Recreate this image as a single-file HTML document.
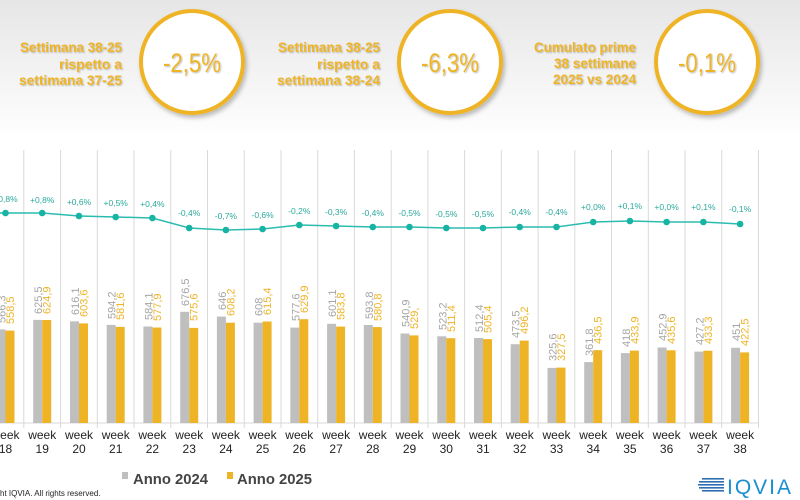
<!DOCTYPE html>
<html><head><meta charset="utf-8"><style>
html,body{margin:0;padding:0;width:800px;height:500px;overflow:hidden;background:#fff;font-family:"Liberation Sans",sans-serif;position:relative}
</style></head><body>
<svg width="800" height="500" viewBox="0 0 800 500" xmlns="http://www.w3.org/2000/svg" font-family="Liberation Sans, sans-serif" style="position:absolute;left:0;top:0">
<defs>
<linearGradient id="bg" x1="0" y1="0" x2="0" y2="1"><stop offset="0" stop-color="#e6e6e6"/><stop offset="1" stop-color="#ffffff"/></linearGradient>
<filter id="sh" x="-20%" y="-20%" width="140%" height="140%"><feDropShadow dx="2" dy="3" stdDeviation="2" flood-color="#000" flood-opacity="0.25"/></filter>
<filter id="ts"><feDropShadow dx="1" dy="1" stdDeviation="0.8" flood-color="#000" flood-opacity="0.25"/></filter>
</defs>
<rect x="0" y="0" width="800" height="140" fill="url(#bg)"/>
<g fill="#efb426" font-weight="bold" font-size="13.5" text-anchor="end" filter="url(#ts)">
<text x="122" y="52" textLength="102" lengthAdjust="spacingAndGlyphs">Settimana 38-25</text>
<text x="122" y="69" textLength="63" lengthAdjust="spacingAndGlyphs">rispetto a</text>
<text x="122" y="85" textLength="103" lengthAdjust="spacingAndGlyphs">settimana 37-25</text>
<text x="380" y="52" textLength="102" lengthAdjust="spacingAndGlyphs">Settimana 38-25</text>
<text x="380" y="69" textLength="63" lengthAdjust="spacingAndGlyphs">rispetto a</text>
<text x="380" y="85" textLength="103" lengthAdjust="spacingAndGlyphs">settimana 38-24</text>
<text x="636" y="52" textLength="102" lengthAdjust="spacingAndGlyphs">Cumulato prime</text>
<text x="636" y="68" textLength="82" lengthAdjust="spacingAndGlyphs">38 settimane</text>
<text x="636" y="84" textLength="83" lengthAdjust="spacingAndGlyphs">2025 vs 2024</text>
</g>
<g filter="url(#sh)">
<circle cx="192" cy="62" r="51" fill="#fff" stroke="#efb426" stroke-width="4"/>
<circle cx="450" cy="62" r="51" fill="#fff" stroke="#efb426" stroke-width="4"/>
<circle cx="707" cy="62" r="51" fill="#fff" stroke="#efb426" stroke-width="4"/>
</g>
<g fill="#efb426" font-size="27" text-anchor="middle" filter="url(#ts)">
<text x="192" y="72" textLength="58" lengthAdjust="spacingAndGlyphs">-2,5%</text><text x="450" y="72" textLength="58" lengthAdjust="spacingAndGlyphs">-6,3%</text><text x="707" y="72" textLength="58" lengthAdjust="spacingAndGlyphs">-0,1%</text>
</g>
<g stroke="#d9d9d9" stroke-width="1">
<line x1="23.8" y1="150" x2="23.8" y2="428"/><line x1="60.6" y1="150" x2="60.6" y2="428"/><line x1="97.3" y1="150" x2="97.3" y2="428"/><line x1="134" y1="150" x2="134" y2="428"/><line x1="170.8" y1="150" x2="170.8" y2="428"/><line x1="207.5" y1="150" x2="207.5" y2="428"/><line x1="244.2" y1="150" x2="244.2" y2="428"/><line x1="281" y1="150" x2="281" y2="428"/><line x1="317.7" y1="150" x2="317.7" y2="428"/><line x1="354.4" y1="150" x2="354.4" y2="428"/><line x1="391.2" y1="150" x2="391.2" y2="428"/><line x1="427.9" y1="150" x2="427.9" y2="428"/><line x1="464.6" y1="150" x2="464.6" y2="428"/><line x1="501.3" y1="150" x2="501.3" y2="428"/><line x1="538.1" y1="150" x2="538.1" y2="428"/><line x1="574.8" y1="150" x2="574.8" y2="428"/><line x1="611.5" y1="150" x2="611.5" y2="428"/><line x1="648.3" y1="150" x2="648.3" y2="428"/><line x1="685" y1="150" x2="685" y2="428"/><line x1="721.7" y1="150" x2="721.7" y2="428"/><line x1="758.5" y1="150" x2="758.5" y2="428"/>
<line x1="0" y1="423" x2="758.5" y2="423"/>
</g>
<g fill="#bfbfbf">
<rect x="-3.5" y="329.4" width="9" height="93.6"/><rect x="33.2" y="319.9" width="9" height="103.1"/><rect x="70" y="321.4" width="9" height="101.6"/><rect x="106.7" y="324.9" width="9" height="98.1"/><rect x="143.4" y="326.5" width="9" height="96.5"/><rect x="180.2" y="311.8" width="9" height="111.2"/><rect x="216.9" y="316.6" width="9" height="106.4"/><rect x="253.6" y="322.7" width="9" height="100.3"/><rect x="290.3" y="327.6" width="9" height="95.4"/><rect x="327.1" y="323.8" width="9" height="99.2"/><rect x="363.8" y="325" width="9" height="98"/><rect x="400.5" y="333.5" width="9" height="89.5"/><rect x="437.3" y="336.3" width="9" height="86.7"/><rect x="474" y="338" width="9" height="85"/><rect x="510.7" y="344.2" width="9" height="78.8"/><rect x="547.5" y="367.9" width="9" height="55.1"/><rect x="584.2" y="362.1" width="9" height="60.9"/><rect x="620.9" y="353.1" width="9" height="69.9"/><rect x="657.6" y="347.5" width="9" height="75.5"/><rect x="694.4" y="351.6" width="9" height="71.4"/><rect x="731.1" y="347.8" width="9" height="75.2"/>
</g>
<g fill="#efb426">
<rect x="5.5" y="330.6" width="9" height="92.4"/><rect x="42.2" y="320" width="9" height="103"/><rect x="79" y="323.4" width="9" height="99.6"/><rect x="115.7" y="326.9" width="9" height="96.1"/><rect x="152.4" y="327.5" width="9" height="95.5"/><rect x="189.2" y="327.9" width="9" height="95.1"/><rect x="225.9" y="322.7" width="9" height="100.3"/><rect x="262.6" y="321.5" width="9" height="101.5"/><rect x="299.3" y="319.2" width="9" height="103.8"/><rect x="336.1" y="326.6" width="9" height="96.4"/><rect x="372.8" y="327.1" width="9" height="95.9"/><rect x="409.5" y="335.4" width="9" height="87.6"/><rect x="446.3" y="338.2" width="9" height="84.8"/><rect x="483" y="339.1" width="9" height="83.9"/><rect x="519.7" y="340.6" width="9" height="82.4"/><rect x="556.5" y="367.6" width="9" height="55.4"/><rect x="593.2" y="350.2" width="9" height="72.8"/><rect x="629.9" y="350.6" width="9" height="72.4"/><rect x="666.6" y="350.3" width="9" height="72.7"/><rect x="703.4" y="350.7" width="9" height="72.3"/><rect x="740.1" y="352.4" width="9" height="70.6"/>
</g>
<g fill="#a6a6a6" font-size="11">
<text transform="translate(5.5,323) rotate(-90)">566,3</text>
<text transform="translate(42.2,314) rotate(-90)">625,5</text>
<text transform="translate(79,315) rotate(-90)">616,1</text>
<text transform="translate(115.7,319) rotate(-90)">594,2</text>
<text transform="translate(152.4,320) rotate(-90)">584,1</text>
<text transform="translate(189.2,306) rotate(-90)">676,5</text>
<text transform="translate(225.9,310) rotate(-90)">646</text>
<text transform="translate(262.6,316) rotate(-90)">608</text>
<text transform="translate(299.3,321) rotate(-90)">577,6</text>
<text transform="translate(336.1,317) rotate(-90)">601,1</text>
<text transform="translate(372.8,319) rotate(-90)">593,8</text>
<text transform="translate(409.5,327) rotate(-90)">540,9</text>
<text transform="translate(446.3,330) rotate(-90)">523,2</text>
<text transform="translate(483,332) rotate(-90)">512,4</text>
<text transform="translate(519.7,338) rotate(-90)">473,5</text>
<text transform="translate(556.5,361) rotate(-90)">325,6</text>
<text transform="translate(593.2,356) rotate(-90)">361,8</text>
<text transform="translate(629.9,347) rotate(-90)">418</text>
<text transform="translate(666.6,341) rotate(-90)">452,9</text>
<text transform="translate(703.4,345) rotate(-90)">427,2</text>
<text transform="translate(740.1,341) rotate(-90)">451</text>
</g>
<g fill="#efb426" font-size="11">
<text transform="translate(14,324) rotate(-90)">558,5</text>
<text transform="translate(50.7,314) rotate(-90)">624,9</text>
<text transform="translate(87.5,317) rotate(-90)">603,6</text>
<text transform="translate(124.2,320) rotate(-90)">581,6</text>
<text transform="translate(160.9,321) rotate(-90)">577,9</text>
<text transform="translate(197.7,321) rotate(-90)">575,6</text>
<text transform="translate(234.4,316) rotate(-90)">608,2</text>
<text transform="translate(271.1,315) rotate(-90)">615,4</text>
<text transform="translate(307.8,313) rotate(-90)">629,9</text>
<text transform="translate(344.6,320) rotate(-90)">583,8</text>
<text transform="translate(381.3,321) rotate(-90)">580,8</text>
<text transform="translate(418,329) rotate(-90)">529,</text>
<text transform="translate(454.8,332) rotate(-90)">511,4</text>
<text transform="translate(491.5,333) rotate(-90)">505,4</text>
<text transform="translate(528.2,334) rotate(-90)">496,2</text>
<text transform="translate(565,361) rotate(-90)">327,5</text>
<text transform="translate(601.7,344) rotate(-90)">436,5</text>
<text transform="translate(638.4,344) rotate(-90)">433,9</text>
<text transform="translate(675.1,344) rotate(-90)">435,6</text>
<text transform="translate(711.9,344) rotate(-90)">433,3</text>
<text transform="translate(748.6,346) rotate(-90)">422,5</text>
</g>
<polyline fill="none" stroke="#2bbcb0" stroke-width="1.5" points="0,213 5.5,213 42.2,213 79,216 115.7,217 152.4,218 189.2,228 225.9,230 262.6,229 299.3,225 336.1,226 372.8,227 409.5,227 446.3,228 483,228 519.7,227 556.5,227 593.2,222 629.9,221 666.6,222 703.4,222 740.1,224"/>
<g fill="#17b3a3">
<circle cx="5.5" cy="213" r="3.3"/><circle cx="42.2" cy="213" r="3.3"/><circle cx="79" cy="216" r="3.3"/><circle cx="115.7" cy="217" r="3.3"/><circle cx="152.4" cy="218" r="3.3"/><circle cx="189.2" cy="228" r="3.3"/><circle cx="225.9" cy="230" r="3.3"/><circle cx="262.6" cy="229" r="3.3"/><circle cx="299.3" cy="225" r="3.3"/><circle cx="336.1" cy="226" r="3.3"/><circle cx="372.8" cy="227" r="3.3"/><circle cx="409.5" cy="227" r="3.3"/><circle cx="446.3" cy="228" r="3.3"/><circle cx="483" cy="228" r="3.3"/><circle cx="519.7" cy="227" r="3.3"/><circle cx="556.5" cy="227" r="3.3"/><circle cx="593.2" cy="222" r="3.3"/><circle cx="629.9" cy="221" r="3.3"/><circle cx="666.6" cy="222" r="3.3"/><circle cx="703.4" cy="222" r="3.3"/><circle cx="740.1" cy="224" r="3.3"/>
</g>
<g fill="#2aa99c" font-size="8.5" text-anchor="middle">
<text x="5.5" y="202">+0,8%</text><text x="42.2" y="203">+0,8%</text><text x="79" y="205">+0,6%</text><text x="115.7" y="206">+0,5%</text><text x="152.4" y="207">+0,4%</text><text x="189.2" y="216">-0,4%</text><text x="225.9" y="219">-0,7%</text><text x="262.6" y="218">-0,6%</text><text x="299.3" y="214">-0,2%</text><text x="336.1" y="215">-0,3%</text><text x="372.8" y="216">-0,4%</text><text x="409.5" y="216">-0,5%</text><text x="446.3" y="217">-0,5%</text><text x="483" y="217">-0,5%</text><text x="519.7" y="215">-0,4%</text><text x="556.5" y="215">-0,4%</text><text x="593.2" y="210">+0,0%</text><text x="629.9" y="209">+0,1%</text><text x="666.6" y="210">+0,0%</text><text x="703.4" y="210">+0,1%</text><text x="740.1" y="212">-0,1%</text>
</g>
<g fill="#222" font-size="12" text-anchor="middle">
<text x="5.5" y="439">week</text><text x="42.2" y="439">week</text><text x="79" y="439">week</text><text x="115.7" y="439">week</text><text x="152.4" y="439">week</text><text x="189.2" y="439">week</text><text x="225.9" y="439">week</text><text x="262.6" y="439">week</text><text x="299.3" y="439">week</text><text x="336.1" y="439">week</text><text x="372.8" y="439">week</text><text x="409.5" y="439">week</text><text x="446.3" y="439">week</text><text x="483" y="439">week</text><text x="519.7" y="439">week</text><text x="556.5" y="439">week</text><text x="593.2" y="439">week</text><text x="629.9" y="439">week</text><text x="666.6" y="439">week</text><text x="703.4" y="439">week</text><text x="740.1" y="439">week</text>
<text x="5.5" y="453">18</text><text x="42.2" y="453">19</text><text x="79" y="453">20</text><text x="115.7" y="453">21</text><text x="152.4" y="453">22</text><text x="189.2" y="453">23</text><text x="225.9" y="453">24</text><text x="262.6" y="453">25</text><text x="299.3" y="453">26</text><text x="336.1" y="453">27</text><text x="372.8" y="453">28</text><text x="409.5" y="453">29</text><text x="446.3" y="453">30</text><text x="483" y="453">31</text><text x="519.7" y="453">32</text><text x="556.5" y="453">33</text><text x="593.2" y="453">34</text><text x="629.9" y="453">35</text><text x="666.6" y="453">36</text><text x="703.4" y="453">37</text><text x="740.1" y="453">38</text>
</g>
<rect x="122" y="472" width="6" height="7" fill="#bfbfbf"/>
<text x="133" y="484" font-size="15" font-weight="bold" fill="#444" textLength="75" lengthAdjust="spacingAndGlyphs">Anno 2024</text>
<rect x="227" y="472" width="6" height="7" fill="#efb426"/>
<text x="237" y="484" font-size="15" font-weight="bold" fill="#444" textLength="75" lengthAdjust="spacingAndGlyphs">Anno 2025</text>
<text x="0" y="496" font-size="8" fill="#222">ht IQVIA. All rights reserved.</text>
<g fill="#2d6fb0">
<rect x="702" y="478" width="22" height="1.6"/><rect x="699" y="481" width="25" height="1.6"/><rect x="698" y="484" width="26" height="1.6"/><rect x="699" y="487" width="25" height="1.6"/><rect x="702" y="490" width="22" height="1.6"/>
</g>
<text x="727" y="494" font-size="21" fill="#1a8fd0" letter-spacing="2">IQVIA</text>
</svg>
</body></html>
